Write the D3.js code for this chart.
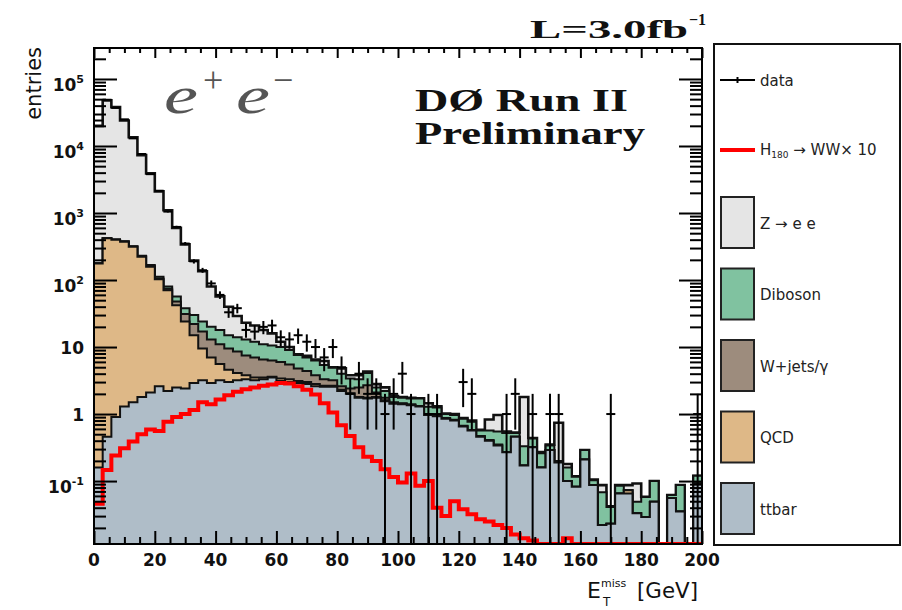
<!DOCTYPE html>
<html>
<head>
<meta charset="utf-8">
<script src="https://cdn.jsdelivr.net/npm/d3@7"></script>
<style>
  html, body { margin: 0; padding: 0; background: #fff; }
  svg { display: block; }
</style>
</head>
<body>
<svg id="chart" width="902" height="610"></svg>
<script>
// Missing transverse energy, ee channel: 70 bins from 0 to 200 GeV
const nBins = 70;
const xMax = 200;

const ttbar = [0.16,0.46,0.9,1.3,1.5,1.8,2.1,2.6,2.2,2.5, 2.4,2.9,3.2,2.9,3.2,3.0,3.2,3.3,3.2,3.3,
  3.5,3.1,3.0,2.9,2.8,2.6,2.55,2.55,2.2,2.0, 1.75,1.7,1.75,1.55,1.42,1.40,1.35,1.3,0.97,0.93,
  0.85,0.8,0.65,0.57,0.46,0.40,0.34,0.27,0.46,0.17, 0.32,0.16,0.29,0.19,0.10,0.082,0.21,0.087,0.022,0.023,
  0.065,0.065,0.033,0.029,0.049,0,0.056,0.035,0,0.092];
const qcd = [177,418,399,372,313,221,156,100,68,39.5, 21.6,12.1,6.3,4.1,2.4,1.6,0.9,0.5,0.3,0.2,
  0.1,0.3,0.3,0.2,0.2,0.2,0.1,0.1,0.1,0.05, 0.05,0.05,0.05,0.05,0.03,0.02,0.02,0,0.01,0.01,
  0.01,0.01,0.01,0,0,0,0,0,0,0, 0,0,0,0,0,0,0,0,0,0,
  0,0.008,0,0,0,0,0,0,0,0];
const wjets = [0.3,1,1,1.2,2,3,4,3,4,6, 7,7,7.5,6,5.4,4.9,4.5,3.7,3.5,3.0,
  2.7,2.6,2.2,1.7,1.4,1.0,0.65,0.55,0.3,0.35, 0.7,0.95,0.3,0.15,0.05,0.03,0.03,0.02,0.02,0.01,
  0.01,0.01,0.01,0.01,0.01,0.01,0.01,0,0,0, 0,0,0,0,0,0,0,0,0,0,
  0,0,0,0,0,0,0,0,0,0];
const diboson = [1,2,2,3,3,4,5,6,6,9, 7,8,7,7,7,5.5,5.4,5.5,5,4.5,
  4.2,4.0,3.5,2.8,2.6,2.5,2.1,1.7,1.4,1.0, 0.8,1.4,0.4,0.45,0.3,0.3,0.3,0.38,0.29,0.3,
  0.13,0.15,0.18,0.19,0.1,0.16,0.2,0.25,0.06,0.16, 0.11,0.1,0.05,0.01,0.06,0.034,0.08,0.016,0.046,0.018,
  0.02,0,0.016,0.029,0.051,0,0.006,0.052,0,0.028];
const zee = [19800,47600,37600,23600,13200,7070,3730,1990,1020,543, 302,165,111,60,39,25,15,10,9,7,
  5.5,2,1,0.2,0.4,0.2,0.8,0.1,0.8,0.4, 0.5,0.2,0.3,0.3,0.05,0.05,0.05,0.02,0.16,0.05,
  0.02,0.03,0.02,0.03,0.01,0.26,0.42,0.03,0.01,1.47, 0.01,0.01,0.01,0.54,0.02,0.002,0,0.002,0.019,0.001,
  0.002,0.014,0.043,0,0,0,0,0,0,0];
const dataCounts = [24000,49000,37000,25000,13000,7600,3800,2150,1050,620, 350,190,140,89,60,33,38,18,17,20,
  21,14,13,15,12,10,7,10,5,2, 4,2,2,1,2,4,1,0,1,1,
  0,0,3,2,0,0,0,1,2,0, 1,0,1,1,0,0,0,0,0,1,
  0,0,0,0,0,0,0,0,0,1];
// H(180) -> WW signal, scaled by 10
const signal = [0.046,0.146,0.24,0.31,0.39,0.5,0.59,0.56,0.77,0.9, 1.0,1.15,1.5,1.4,1.65,1.9,2.15,2.35,2.5,2.65,
  2.75,2.9,2.85,2.6,2.3,1.95,1.45,1.05,0.68,0.47, 0.32,0.23,0.2,0.15,0.115,0.095,0.13,0.085,0.1,0.04,
  0.03,0.05,0.038,0.032,0.027,0.025,0.022,0.02,0.016,0.014, 0.013,0,0,0,0.014,0,0,0,0,0,
  0,0,0,0,0,0,0,0,0,0];

const sampleKeys = ["ttbar", "qcd", "wjets", "diboson", "zee"];
const sampleColors = { ttbar: "#afbdc8", qcd: "#deb887", wjets: "#9d8c7d", diboson: "#80c2a0", zee: "#e5e5e5" };
const legendNames = ["Z \u2192 e e", "Diboson", "W+jets/\u03b3", "QCD", "ttbar"];
const legendKeys = ["zee", "diboson", "wjets", "qcd", "ttbar"];

const xMajorTicks = [0, 20, 40, 60, 80, 100, 120, 140, 160, 180, 200];
const yDecades = [0.1, 1, 10, 100, 1000, 10000, 100000];
const yTickBase = ["10", "1", "10", "10", "10", "10", "10"];
const yTickExp = ["-1", "", "", "2", "3", "4", "5"];

// ---- layout ----
const svg = d3.select("#chart");
const L = 94, R = 702, T = 48, B = 544;
const yMin = 0.0115, yMax = 2.9e5;

const x = d3.scaleLinear().domain([0, xMax]).range([L, R]);
const y = d3.scaleLog().domain([yMin, yMax]).range([B, T]);
const yc = v => y(Math.max(v, yMin));

const binW = xMax / nBins;
const edges = d3.range(nBins).map(i => i * binW);

const table = edges.map((e, i) => ({ lo: e, ttbar: ttbar[i], qcd: qcd[i], wjets: wjets[i], diboson: diboson[i], zee: zee[i] }));
const stacked = d3.stack().keys(sampleKeys)(table);

svg.append("defs").append("clipPath").attr("id", "plotclip")
  .append("rect").attr("x", L).attr("y", T).attr("width", R - L).attr("height", B - T);

const plot = svg.append("g").attr("clip-path", "url(#plotclip)");

function stepPoints(vals) {
  const pts = vals.map((v, i) => ({ x: edges[i], v }));
  pts.push({ x: xMax, v: vals[vals.length - 1] });
  return pts;
}
const area = d3.area().curve(d3.curveStepAfter).x(d => x(d.x)).y0(B + 2).y1(d => yc(d.v));
const line = d3.line().curve(d3.curveStepAfter).x(d => x(d.x)).y(d => yc(d.v));

// cumulative histograms drawn from the largest down, each filled from the axis
[...stacked].reverse().forEach(layer => {
  const tops = layer.map(d => d[1]);
  const pts = stepPoints(tops);
  plot.append("path").attr("d", area(pts)).attr("fill", sampleColors[layer.key]).attr("stroke", "none");
  plot.append("path").attr("d", line(pts)).attr("fill", "none")
    .attr("stroke", "#111").attr("stroke-width", layer.key === "zee" ? 2.6 : 2);
});

// signal x10
plot.append("path").attr("d", line(stepPoints(signal))).attr("fill", "none")
  .attr("stroke", "#ff0000").attr("stroke-width", 4);

// data with Poisson error bars
const dataG = plot.append("g").attr("stroke", "#000").attr("stroke-width", 2);
dataCounts.forEach((n, i) => {
  if (n <= 0) return;
  const xc = x(edges[i] + binW / 2);
  const err = Math.sqrt(n);
  dataG.append("line").attr("x1", xc).attr("x2", xc).attr("y1", yc(n - err)).attr("y2", yc(n + err));
  dataG.append("line").attr("x1", xc - 4.5).attr("x2", xc + 4.5).attr("y1", y(n)).attr("y2", y(n));
});

// ---- axes ----
const xMinorTicks = d3.range(0, xMax + 1, 5).filter(v => v % 20 !== 0);
const yMinorTicks = [];
for (let p = -2; p <= 5; p++) for (let m = 2; m <= 9; m++) {
  const v = m * Math.pow(10, p);
  if (v > yMin && v < yMax) yMinorTicks.push(v);
}
function styleAxis(g) {
  g.select(".domain").remove();
  g.selectAll(".tick line").attr("stroke", "#000").attr("stroke-width", 2);
  g.selectAll(".tick text").remove();
}
svg.append("g").attr("transform", `translate(0,${B})`).call(d3.axisBottom(x).tickValues(xMajorTicks).tickSize(-13).tickFormat("")).call(styleAxis);
svg.append("g").attr("transform", `translate(0,${B})`).call(d3.axisBottom(x).tickValues(xMinorTicks).tickSize(-7).tickFormat("")).call(styleAxis);
svg.append("g").attr("transform", `translate(0,${T})`).call(d3.axisTop(x).tickValues(xMajorTicks).tickSize(-10).tickFormat("")).call(styleAxis);
svg.append("g").attr("transform", `translate(0,${T})`).call(d3.axisTop(x).tickValues(xMinorTicks).tickSize(-5).tickFormat("")).call(styleAxis);
svg.append("g").attr("transform", `translate(${L},0)`).call(d3.axisLeft(y).tickValues(yDecades).tickSize(-23).tickFormat("")).call(styleAxis);
svg.append("g").attr("transform", `translate(${L},0)`).call(d3.axisLeft(y).tickValues(yMinorTicks).tickSize(-12).tickFormat("")).call(styleAxis);
svg.append("g").attr("transform", `translate(${R},0)`).call(d3.axisRight(y).tickValues(yDecades).tickSize(-23).tickFormat("")).call(styleAxis);
svg.append("g").attr("transform", `translate(${R},0)`).call(d3.axisRight(y).tickValues(yMinorTicks).tickSize(-12).tickFormat("")).call(styleAxis);

svg.append("rect").attr("x", L).attr("y", T).attr("width", R - L).attr("height", B - T)
  .attr("fill", "none").attr("stroke", "#000").attr("stroke-width", 2);

// tick labels
const labelFont = "'DejaVu Sans', sans-serif";
svg.append("g").selectAll("text").data(xMajorTicks).join("text")
  .attr("x", d => x(d)).attr("y", 566).attr("text-anchor", "middle")
  .attr("font-family", labelFont).attr("font-weight", "bold").attr("font-size", 17).attr("fill", "#111")
  .text(d => d);

const yl = svg.append("g").attr("font-family", labelFont).attr("font-weight", "bold").attr("fill", "#111");
yDecades.forEach((v, i) => {
  const t = yl.append("text").attr("x", 84).attr("text-anchor", "end").attr("font-size", 17);
  if (yTickExp[i]) {
    t.attr("y", y(v) + 12);
    t.append("tspan").text(yTickBase[i]);
    t.append("tspan").attr("font-size", 11).attr("dy", -8).text(yTickExp[i]);
  } else {
    t.attr("y", y(v) + 7).text(yTickBase[i]);
  }
});

// axis titles
svg.append("text").attr("transform", "translate(41,47) rotate(-90)").attr("text-anchor", "end")
  .attr("font-family", labelFont).attr("font-size", 21).attr("fill", "#111").text("entries");

const xt = svg.append("g").attr("font-family", labelFont).attr("fill", "#111");
xt.append("text").attr("x", 587).attr("y", 598).attr("font-size", 22).text("E");
xt.append("text").attr("x", 603).attr("y", 606).attr("font-size", 12).text("T");
xt.append("text").attr("x", 601).attr("y", 587).attr("font-size", 11).text("miss");
xt.append("text").attr("x", 698).attr("y", 598).attr("text-anchor", "end").attr("font-size", 22)
  .attr("textLength", 61).attr("lengthAdjust", "spacingAndGlyphs").text("[GeV]");

// luminosity and labels
const serif = "'Liberation Serif', 'DejaVu Serif', serif";
const lum = svg.append("g").attr("font-family", serif).attr("font-weight", "bold").attr("fill", "#111");
lum.append("text").attr("x", 530).attr("y", 38).attr("font-size", 26)
  .attr("textLength", 158).attr("lengthAdjust", "spacingAndGlyphs").text("L=3.0fb");
lum.append("text").attr("x", 689).attr("y", 25).attr("font-size", 16).text("\u22121");

const lab = svg.append("g").attr("font-family", serif).attr("font-weight", "bold").attr("fill", "#111");
lab.append("text").attr("x", 415).attr("y", 111).attr("font-size", 31)
  .attr("textLength", 213).attr("lengthAdjust", "spacingAndGlyphs").text("D\u00d8 Run II");
lab.append("text").attr("x", 415).attr("y", 144).attr("font-size", 31)
  .attr("textLength", 230).attr("lengthAdjust", "spacingAndGlyphs").text("Preliminary");

// e+e- channel tag, thin italic letters
const ee = svg.append("g").attr("font-family", serif).attr("font-style", "italic").attr("fill", "#555");
ee.append("text").attr("x", 164).attr("y", 113).attr("font-size", 52)
  .attr("textLength", 34).attr("lengthAdjust", "spacingAndGlyphs").text("e");
ee.append("text").attr("x", 203).attr("y", 92).attr("font-size", 36).attr("font-style", "normal").text("+");
ee.append("text").attr("x", 236).attr("y", 113).attr("font-size", 52)
  .attr("textLength", 34).attr("lengthAdjust", "spacingAndGlyphs").text("e");
ee.append("text").attr("x", 273).attr("y", 92).attr("font-size", 36).attr("font-style", "normal").text("\u2212");

// ---- legend ----
const lg = svg.append("g");
lg.append("rect").attr("x", 714).attr("y", 44).attr("width", 186).attr("height", 501)
  .attr("fill", "#fff").attr("stroke", "#111").attr("stroke-width", 2);
const lgFont = "'DejaVu Sans', sans-serif";
lg.append("line").attr("x1", 720).attr("x2", 755).attr("y1", 80).attr("y2", 80).attr("stroke", "#000").attr("stroke-width", 2);
lg.append("line").attr("x1", 737.5).attr("x2", 737.5).attr("y1", 77).attr("y2", 83).attr("stroke", "#000").attr("stroke-width", 2);
lg.append("text").attr("x", 760).attr("y", 86).attr("font-family", lgFont).attr("font-size", 15).attr("fill", "#222").text("data");

lg.append("line").attr("x1", 720).attr("x2", 755).attr("y1", 150).attr("y2", 150).attr("stroke", "#ff0000").attr("stroke-width", 4);
const ht = lg.append("text").attr("x", 760).attr("y", 155).attr("font-family", lgFont).attr("font-size", 15).attr("fill", "#222");
ht.append("tspan").text("H");
ht.append("tspan").attr("font-size", 9).attr("dy", 3).text("180");
ht.append("tspan").attr("dy", -3).text(" \u2192 WW\u00d7 10");

legendKeys.forEach((k, i) => {
  const cy = 222.5 + 71.5 * i;
  lg.append("rect").attr("x", 721).attr("y", cy - 25.5).attr("width", 33).attr("height", 51)
    .attr("fill", sampleColors[k]).attr("stroke", "#222").attr("stroke-width", 2);
  lg.append("text").attr("x", 760).attr("y", cy + 6).attr("font-family", lgFont).attr("font-size", 15)
    .attr("fill", "#222").text(legendNames[i]);
});
</script>
</body>
</html>
